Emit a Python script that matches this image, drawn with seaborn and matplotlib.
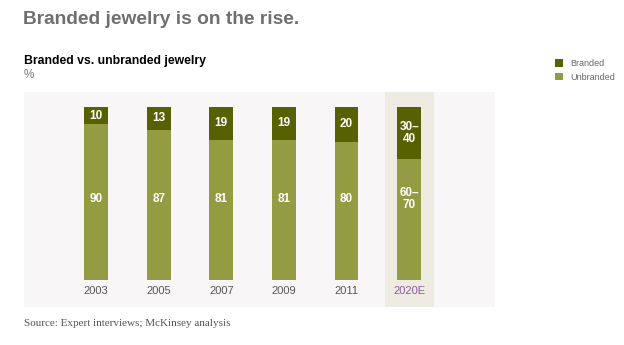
import matplotlib
matplotlib.use("Agg")
import matplotlib.pyplot as plt
from matplotlib.patches import Patch
import seaborn as sns
import pandas as pd

years = ["2003", "2005", "2007", "2009", "2011", "2020E"]
branded = [10, 13, 19, 19, 20, 30]
unbranded = [90, 87, 81, 81, 80, 70]
branded_labels = ["10", "13", "19", "19", "20", "30–\n40"]
unbranded_labels = ["90", "87", "81", "81", "80", "60–\n70"]

DARK = "#566102"
LIGHT = "#939c42"
BG = "#f8f6f6"
HL = "#eeebe2"

sns.set_theme(style="white")
plt.rcParams["font.family"] = ["Liberation Sans", "DejaVu Sans"]

df = pd.DataFrame({
    "year": years,
    "branded": branded,
    "unbranded": unbranded,
})
df["total"] = df["branded"] + df["unbranded"]

fig = plt.figure(figsize=(6.24, 3.45), dpi=100)
fig.patch.set_facecolor("white")
W, H = 624, 345
ax = fig.add_axes([24 / W, (H - 307) / H, (495 - 24) / W, (307 - 92) / H])
ax.set_facecolor(BG)

bw = 0.38
sns.barplot(data=df, x="year", y="total", order=years, color=DARK,
            width=bw, saturation=1, ax=ax, zorder=2, linewidth=0, edgecolor="none")
sns.barplot(data=df, x="year", y="unbranded", order=years, color=LIGHT,
            width=bw, saturation=1, ax=ax, zorder=3, linewidth=0, edgecolor="none")

ax.axvspan(5 - 0.39, 5 + 0.39, color=HL, zorder=1, lw=0)

ax.set_xlim(-1.15, 6.37)
ax.set_ylim(-15.6, 108.7)
ax.set_xlabel("")
ax.set_ylabel("")
ax.set_xticks([])
ax.set_yticks([])
for s in ax.spines.values():
    s.set_visible(False)

for i, y in enumerate(years):
    u = unbranded[i]
    b = branded[i]
    ax.text(i, u + b / 2, branded_labels[i], ha="center", va="center",
            color="white", fontsize=8.5, fontweight="bold", zorder=5,
            linespacing=1.0)
    ax.text(i, 47, unbranded_labels[i], ha="center", va="center",
            color="white", fontsize=8.5, fontweight="bold", zorder=5,
            linespacing=1.0)
    ax.text(i, -6.5, y, ha="center", va="center",
            color="#8a5a98" if y.endswith("E") else "#555555",
            fontsize=8, zorder=5)

fig.text(23 / W, 1 - 20 / H, "Branded jewelry is on the rise.",
         fontsize=13.8, fontweight="bold", color="#6f6f6f", va="center", ha="left")
fig.text(24 / W, 1 - 61 / H, "Branded vs. unbranded jewelry",
         fontsize=8.8, fontweight="bold", color="black", va="center", ha="left")
fig.text(24 / W, 1 - 75 / H, "%", fontsize=8.5, color="#777777",
         va="center", ha="left")
fig.text(24 / W, 1 - 323 / H, "Source: Expert interviews; McKinsey analysis",
         fontsize=8, color="#555555", va="center", ha="left",
         family=["Liberation Serif", "DejaVu Serif"])

handles = [Patch(facecolor=DARK, edgecolor="none", label="Branded"),
           Patch(facecolor=LIGHT, edgecolor="none", label="Unbranded")]
fig.legend(handles=handles, loc="upper left", bbox_to_anchor=(547 / W, 1 - 51 / H),
           frameon=False, fontsize=6.5, handlelength=0.9, handleheight=0.9,
           handletextpad=0.8, labelspacing=0.5, labelcolor="#666666")

fig.savefig("out.png", dpi=100, facecolor="white")
